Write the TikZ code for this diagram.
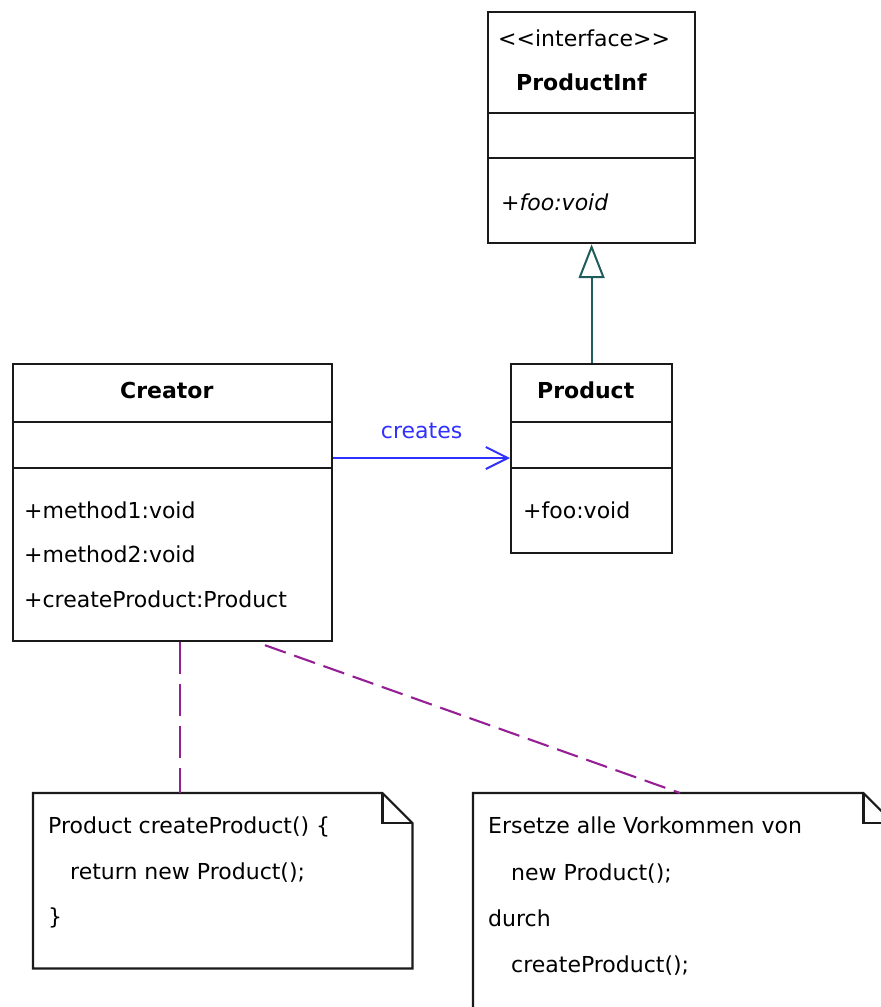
\documentclass[tikz,border=0pt]{standalone}
\usepackage{fontspec}
\setmainfont{DejaVu Sans}
\usepackage{tikz}
\usetikzlibrary{arrows.meta, positioning, calc}
\usepackage{xcolor}
\definecolor{lineblack}{HTML}{1A1A1A}
\definecolor{inheritteal}{HTML}{1F5C5C}
\definecolor{assocblue}{HTML}{3030FF}
\definecolor{notepurple}{HTML}{952095}

\tikzset{
    classbox/.style={draw=lineblack, line width=2.2pt, anchor=north west, inner sep=0pt},
    notebox/.style={anchor=north west, inner sep=0pt},
    noteline/.style={draw=lineblack, line width=2.2pt, line join=miter},
    divider/.style={lineblack, line width=2.2pt},
    member/.style={anchor=base west, inner sep=0pt},
    notelink/.style={notepurple, line width=2.1pt}
}

\begin{document}
\begin{tikzpicture}[x=1pt, y=-1pt, font=\fontsize{22}{26}\selectfont]
                \useasboundingbox (0,0) rectangle (881,1007);

                % interface ProductInf
                \node[classbox, minimum width=207pt, minimum height=231pt] (productinf) at (487,11) {};
                \draw[divider] ($(productinf.north west)+(0,102)$) -- ($(productinf.north east)+(0,102)$);
                \draw[divider] ($(productinf.north west)+(0,147)$) -- ($(productinf.north east)+(0,147)$);
                \node[member] (pinfstereo) at (498,46) {<{}<interface>{}>};
                \node[member, font=\fontsize{22}{26}\selectfont\bfseries] (pinfname) at (516,90) {ProductInf};
                \node[member, font=\fontsize{22}{26}\selectfont\itshape] (pinffoo) at (501,210) {+foo:void};

                % class Product
                \node[classbox, minimum width=161pt, minimum height=189pt] (product) at (510,363) {};
                \draw[divider] ($(product.north west)+(0,59)$) -- ($(product.north east)+(0,59)$);
                \draw[divider] ($(product.north west)+(0,105)$) -- ($(product.north east)+(0,105)$);
                \node[member, font=\fontsize{22}{26}\selectfont\bfseries] (productname) at (537,398) {Product};
                \node[member] (productfoo) at (523,518) {+foo:void};

                % class Creator
                \node[classbox, minimum width=319pt, minimum height=277pt] (creator) at (12,363) {};
                \draw[divider] ($(creator.north west)+(0,59)$) -- ($(creator.north east)+(0,59)$);
                \draw[divider] ($(creator.north west)+(0,105)$) -- ($(creator.north east)+(0,105)$);
                \node[member, font=\fontsize{22}{26}\selectfont\bfseries] (creatorname) at (120,398) {Creator};
                \node[member] (method1) at (24,518) {+method1:void};
                \node[member] (method2) at (24,562) {+method2:void};
                \node[member] (createop) at (24,607) {+createProduct:Product};

                % notes
                \node[notebox, minimum width=379pt, minimum height=175pt] (codenote) at (33,793) {};
                \draw[noteline] (codenote.north west) -- ($(codenote.north east)+(-30,0)$) -- ($(codenote.north east)+(0,30)$) -- (codenote.south east) -- (codenote.south west) -- cycle;
                \draw[noteline] ($(codenote.north east)+(-30,0)$) |- ($(codenote.north east)+(0,30)$);
                \node[member] (code1) at (48,833) {Product createProduct() \{};
                \node[member] (code2) at (70,879) {return new Product();};
                \node[member] (code3) at (48,924) {\}};

                \node[notebox, minimum width=420pt, minimum height=240pt] (renamenote) at (473,793) {};
                \draw[noteline] (renamenote.north west) -- ($(renamenote.north east)+(-30,0)$) -- ($(renamenote.north east)+(0,30)$) -- (renamenote.south east) -- (renamenote.south west) -- cycle;
                \draw[noteline] ($(renamenote.north east)+(-30,0)$) |- ($(renamenote.north east)+(0,30)$);
                \node[member] (rename1) at (488,833) {Ersetze alle Vorkommen von};
                \node[member] (rename2) at (511,880) {new Product();};
                \node[member] (rename3) at (488,926) {durch};
                \node[member] (rename4) at (511,972) {createProduct();};

                % connectors
                \draw[inheritteal, line width=2pt, -{Triangle[open, length=34pt, width=26pt, line width=2pt]}] (product.north) -- (productinf.south);

                \coordinate (createsfrom) at ($(creator.north east)+(0,95)$);
                \draw[assocblue, line width=2pt, -{Straight Barb[length=22pt, width=22pt, line width=2pt]}] (createsfrom) -- (createsfrom -| product.west)
                    node[midway, anchor=base, yshift=20pt, text=assocblue] (createslabel) {creates};

                \coordinate (codelink) at ($(creator.south west)+(168,0)$);
                \coordinate (renamelink) at ($(creator.south west)+(253,3)$);
                \draw[notelink, dash pattern=on 32pt off 10pt] (codelink) -- (codelink |- codenote.north);
                \draw[notelink, dash pattern=on 22pt off 9pt] (renamelink) -- ($(renamenote.north west)+(207,0)$);
            \end{tikzpicture}
\end{document}
